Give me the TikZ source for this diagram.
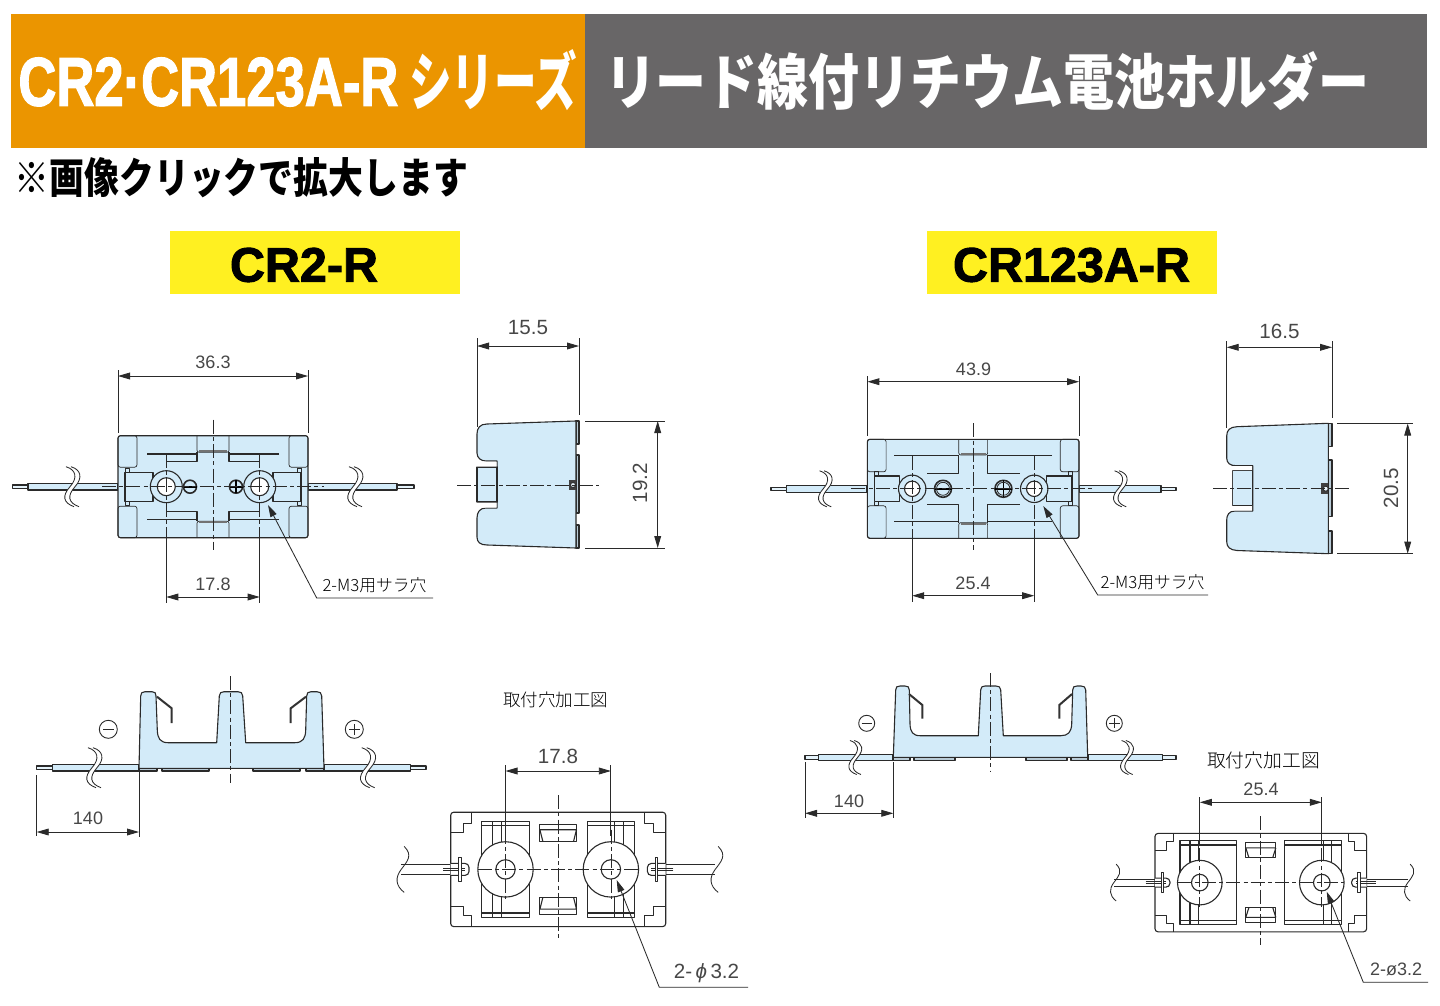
\documentclass[tikz,border=0pt]{standalone}
\usepackage{fontspec}
\usepackage{graphicx}
\usetikzlibrary{arrows.meta}
\setmainfont{Liberation Sans}
\newfontfamily\jp{Noto Sans CJK JP Light}
\newfontfamily\jpb{Noto Sans CJK JP Black}
\newfontfamily\latb[UprightFeatures={FakeBold=2}]{Liberation Sans Bold}
\definecolor{hdrorange}{HTML}{EB9500}
\definecolor{hdrgray}{HTML}{686667}
\definecolor{tagyellow}{HTML}{FFF021}
\definecolor{partblue}{HTML}{D3EBF9}
\definecolor{ink}{HTML}{2A2A2A}
\definecolor{plate}{HTML}{B9CBD7}
\tikzset{
  ol/.style={draw=ink,line width=0.55pt,line join=round},
  fine/.style={draw=ink,line width=0.35pt,line join=round},
  thin/.style={draw=ink,line width=0.42pt},
  cen/.style={draw=ink,line width=0.4pt,dash pattern=on 7pt off 1.6pt on 2pt off 1.6pt},
  dimline/.style={draw=ink,line width=0.42pt,{Triangle[length=6pt,width=3.4pt]}-{Triangle[length=6pt,width=3.4pt]}},
  lead/.style={draw=ink,line width=0.42pt,{Triangle[length=6pt,width=3.4pt]}-},
  clip arm/.style={draw=black!80,line width=1pt,line join=miter},
  lab/.style={inner sep=0pt,text=black!72,font=\fontsize{9pt}{9pt}\selectfont},
  labL/.style={inner sep=0pt,text=black!72,font=\fontsize{10.3pt}{10.3pt}\selectfont},
  jlab/.style={inner sep=0pt,text=black,font=\jp\fontsize{8.4pt}{8.4pt}\selectfont},
}
% double S-shaped wire break
\newcommand{\brk}[3]{%
  \begin{scope}[shift={(#1,#2)},scale=#3]
    \fill[white] (-6,-20) .. controls (4,-17) and (6,-9) .. (-2,0) .. controls (-10,9) and (-9,16) .. (2,20)
       -- (7,20) .. controls (-4,16) and (-5,9) .. (3,0) .. controls (11,-9) and (9,-17) .. (-1,-20) -- cycle;
    \draw[thin] (-6,-20) .. controls (4,-17) and (6,-9) .. (-2,0) .. controls (-10,9) and (-9,16) .. (2,20);
    \draw[thin] (-1,-20) .. controls (9,-17) and (11,-9) .. (3,0) .. controls (-5,9) and (-4,16) .. (7,20);
  \end{scope}}
% horizontal wire: #1 x outer, #2 x sheath start, #3 x sheath end, #4 y centre
\newcommand{\wire}[4]{%
  \draw[ol,fill=partblue] (#2,#4-3.3) rectangle (#3,#4+3.3);
  \draw[ol,fill=partblue!60] (#1,#4-1.7) rectangle (#2,#4+1.7);}
% top view: #1 cx #2 cy #3 hw #4 hh #5 hole offset #6 R #7 r #8 screw offset #9 screw r
\newcommand{\TopV}[9]{%
  \begin{scope}[shift={(#1,#2)}]
    \draw[ol,fill=partblue,rounded corners=1.2pt] ({-#3},{-#4}) rectangle ({#3},{#4});
    \foreach \s in {-1,1}{
      \begin{scope}[xscale=\s]
        \draw[fine,rounded corners=1.2pt] ({-#3},{-#4}) rectangle ({-#3+\cw},{-#4+\ch});
        \draw[fine,rounded corners=1.2pt] ({-#3},{#4}) rectangle ({-#3+\cw},{#4-\ch});
        \draw[fine] ({-#3+7},{-\tmh-4.2}) rectangle ({-#3+11},{-\tmh});
        \draw[fine] ({-#3+7},{\tmh+4.2}) rectangle ({-#3+11},{\tmh});
        \draw[fine] ({-#3+7},{-\tmh-4.2}) -- ({-#3+7},{\tmh+4.2});
        \draw[ol,fill=partblue] ({-#3+7},{-\tmh}) rectangle ({-#3+\tmw},{\tmh});
        % centre cross
        \draw[ol] ({-\tw},{-#4+\tabd}) -- ({-\tw},{-\crossy}) -- (-46.5,{-\crossy});
        \draw[ol] ({-\tw},{#4-\tabd}) -- ({-\tw},{\crossy}) -- (-46.5,{\crossy});
        \draw[ol] ({-\lx},{-\ly}) -- ({-\tw},{-\ly});
        \draw[ol] ({-\lx},{\ly}) -- ({-\tw},{\ly});
        \draw[ol,fill=partblue] ({-#5},0) circle ({#6});
        \fill[white] ({-#5},0) circle ({#7});
        \draw[ol] ({-#5},0) circle ({#7});
      \end{scope}}
    % centre tabs
    \draw[fine,rounded corners=1pt] ({-\tw},{-#4}) -- ({-\tw},{-#4+\tabd}) -- ({\tw},{-#4+\tabd}) -- ({\tw},{-#4});
    \draw[fine,rounded corners=1pt] ({-\tw},{#4}) -- ({-\tw},{#4-\tabd}) -- ({\tw},{#4-\tabd}) -- ({\tw},{#4});
    \fill[black!55] ({-\tw+2},{-#4+\tabd-2}) rectangle ({\tw-2},{-#4+\tabd});
    \fill[black!55] ({-\tw+2},{#4-\tabd+2}) rectangle ({\tw-2},{#4-\tabd});
    % screws
    \draw[ol,line width=0.8pt,fill=partblue] ({-#8},0) circle ({#9});
    \draw[black,line width=1.2pt] ({-#8-#9},0) -- ({-#8+#9},0);
    \draw[ol,line width=0.8pt,fill=partblue] ({#8},0) circle ({#9});
    \draw[black,line width=0.8pt] ({#8-#9},0) -- ({#8+#9},0) ({#8},{-#9}) -- ({#8},{#9});
    % centre lines
    \draw[cen] (0,{-#4-16}) -- (0,{#4+12});
    \draw[cen] ({-#3-16},0) -- ({#3+16},0);
    \foreach \s in {-1,1}{
      \draw[cen] ({\s*#5},{-\ly}) -- ({\s*#5},{#4});
    }
  \end{scope}}
% mounting-hole view: #1 cx #2 cy #3 hw #4 hh #5 hole offset #6 R #7 r
\newcommand{\MountV}[7]{%
  \begin{scope}[shift={(#1,#2)}]
    \draw[ol,rounded corners=1.5pt] ({-#3},{-#4}) rectangle ({#3},{#4});
    \foreach \s in {-1,1}{
      \begin{scope}[xscale=\s]
        \draw[ol] ({-#3+\sa},{-#4}) -- ({-#3+\sa},{-#4+\sb}) -- ({-#3+\sc},{-#4+\sb}) -- ({-#3+\sc},{-#4+\sd}) -- ({-#3},{-#4+\sd});
        \draw[ol] ({-#3+\sa},{#4}) -- ({-#3+\sa},{#4-\sb}) -- ({-#3+\sc},{#4-\sb}) -- ({-#3+\sc},{#4-\sd}) -- ({-#3},{#4-\sd});
        \draw[ol] ({-\pa},{-\pb}) rectangle ({-\pc},{\pb});
        \draw[ol] ({-\pa},{-\pb+4.6}) -- ({-\pc},{-\pb+4.6}) ({-\pa},{\pb-4.6}) -- ({-\pc},{\pb-4.6});
        \draw[ol] ({-\va},{-\pb}) -- ({-\va},{\pb}) ({-\vb},{-\pb}) -- ({-\vb},{\pb});
        \draw[ol,fill=white] ({-#5},0) circle ({#6});
        \draw[ol] ({-#5},0) circle ({#7});
        % wire, terminal and clip bar
        \draw[ol] ({-#3+\kw-1},{-\wh}) -- ({-\wx},{-\wh}) ({-#3+\kw-1},{\wh}) -- ({-\wx},{\wh});
        \draw[ol,fill=white,rounded corners=2pt] ({-#3},{-\kh}) -- ({-#3+\kw},{-\kh}) -- ({-#3+\kw},{\kh}) -- ({-#3},{\kh});
        \draw[thin,line width=0.55pt] ({-#3+\bx-17},-1) -- ({-#3+\kw-4},-1) ({-#3+\bx-17},1) -- ({-#3+\kw-4},1);
        \draw[ol,fill=white] ({-#3+\bx-1.2},{-\bh}) rectangle ({-#3+\bx+1.2},{\bh});
      \end{scope}
      \begin{scope}[shift={({\s*\wx},0)},scale=\wsc]
        \draw[thin] (3,-23) .. controls (12,-14) and (6,-8) .. (0,0) .. controls (-6,8) and (-6,16) .. (3,23);
      \end{scope}}
    % centre tabs
    \draw[ol] ({-\tw},{-\tya}) rectangle ({\tw},{-\tyb});
    \draw[ol] ({-\tw},{\tya}) rectangle ({\tw},{\tyb});
    \draw[ol] ({-\tw},{-\tya+5.5}) -- ({\tw},{-\tya+5.5}) ({-\tw},{-\tya+5.5}) -- ({-\tw+3},{-\tyb}) ({\tw},{-\tya+5.5}) -- ({\tw-3},{-\tyb});
    \draw[ol] ({-\tw},{\tya-5.5}) -- ({\tw},{\tya-5.5}) ({-\tw},{\tya-5.5}) -- ({-\tw+3},{\tyb}) ({\tw},{\tya-5.5}) -- ({\tw-3},{\tyb});
    % centre lines
    \draw[cen] (0,{-#4-17}) -- (0,{#4+13});
    \draw[cen] ({-#5-#6},0) -- ({#5+#6},0);
    \foreach \s in {-1,1}{
      \draw[cen] ({\s*#5},{-#6-12}) -- ({\s*#5},{#6+2});
    }
  \end{scope}}
\newcommand{\sym}[4]{%
  \node[draw=ink,line width=0.45pt,circle,minimum size=#3,inner sep=0pt] (#4) at (#1,#2) {};
  \draw[ink,line width=0.45pt] ([xshift=-2.6pt]#4.center) -- ([xshift=2.6pt]#4.center);}
\begin{document}
\begin{tikzpicture}[x=0.5pt,y=-0.5pt]
\useasboundingbox (0,0) rectangle (1440,1006);
\fill[white] (0,0) rectangle (1440,1006);
% ---- headers
\fill[hdrorange] (11,14) rectangle (585,148);
\fill[hdrgray] (585,14) rectangle (1427,148);
\node[text=white,inner sep=0pt,anchor=west] (h1) at (18,82) {\resizebox{190pt}{24pt}{\latb CR2·CR123A-R}};
\node[text=white,inner sep=0pt,anchor=west] (h1b) at (409,80) {\resizebox{84pt}{28pt}{\jpb シリーズ}};
\node[text=white,inner sep=0pt] (h2) at (987,81) {\resizebox{382pt}{26.5pt}{\jpb リード線付リチウム電池ホルダー}};
\node[anchor=west,inner sep=0pt] (note) at (14.5,178) {\resizebox{226.5pt}{18pt}{\jpb ※画像クリックで拡大します}};
\fill[tagyellow] (170,231) rectangle (460,294);
\fill[tagyellow] (927,231) rectangle (1217,294);
\node[inner sep=0pt] (t1) at (304,265) {\resizebox{74pt}{!}{\latb CR2-R}};
\node[inner sep=0pt] (t2) at (1071.5,265) {\resizebox{118.5pt}{!}{\latb CR123A-R}};

% ---- CR2-R top view
\def\cw{19}\def\ch{31.5}\def\tmw{35}\def\tmh{14.5}\def\tw{16}\def\tabd{16.5}\def\crossy{25}\def\lx{66}\def\ly{32.7}
\wire{12.7}{28}{118}{486.7}
\wire{414}{397}{308}{486.7}
\brk{72}{486.7}{1}
\brk{355}{486.7}{1}
\TopV{213}{486.7}{95}{51}{46.7}{16}{9}{23}{6.5}
\coordinate (a1) at (118,376); \coordinate (b1) at (308,376);
\draw[thin] (118,370) -- (118,433) (308,370) -- (308,433);
\draw[dimline] (a1) -- (b1);
\node[lab] (l1) at (213,362) {36.3};
\coordinate (a2) at (166.3,597); \coordinate (b2) at (259.7,597);
\draw[thin] (166.3,538) -- (166.3,603) (259.7,538) -- (259.7,603);
\draw[dimline] (a2) -- (b2);
\node[lab] (l2) at (213,584) {17.8};
\coordinate (p1) at (268,505); \coordinate (p2) at (316.7,598); \coordinate (p3) at (433,598);
\draw[lead] (p1) -- (p2) -- (p3);
\node[jlab] (l3) at (374.5,585) {2-M3用サラ穴};

% ---- CR2-R side view
\draw[ol,fill=plate] (576,421) rectangle (579,444) (576,455) rectangle (579,513) (576,525) rectangle (579,548);
\draw[ol,fill=partblue] (576,421) -- (487,424) .. controls (480,424) and (477,428) .. (477,434) -- (477,453)
  .. controls (477,458) and (481,461) .. (486,461) -- (497,461) -- (497,508) -- (486,508)
  .. controls (480,508) and (477,512) .. (477,518) -- (477,537) .. controls (477,542) and (480,545) .. (487,545) -- (576,548) -- cycle;
\draw[ol,fill=partblue] (477,467) rectangle (497,502);
\fill[white] (476,461.5) rectangle (496.5,466.5) (476,502.5) rectangle (496.5,507.5);
\fill[black!75] (568.5,480) rectangle (576,490);
\draw[thin,fill=partblue!50] (573,485) circle (2.5);
\draw[cen] (457,485) -- (599,485);
\coordinate (a3) at (477,346); \coordinate (b3) at (579,346);
\draw[thin] (477,338) -- (477,427) (579,338) -- (579,415);
\draw[dimline] (a3) -- (b3);
\node[labL] (l4) at (528,328) {15.5};
\coordinate (a4) at (657.7,421); \coordinate (b4) at (657.7,548);
\draw[thin] (585,421) -- (665,421) (585,548) -- (665,548);
\draw[dimline] (a4) -- (b4);
\node[labL,rotate=90] (l5) at (640,483) {19.2};

% ---- CR2-R front view
\wire{36.7}{52.3}{139}{767.7}
\wire{426}{410.7}{324}{767.7}
\brk{94}{767.7}{1}
\brk{367.7}{767.7}{1}
\draw[ol,fill=plate] (139,768) rectangle (157,771) (162,768) rectangle (209,771) (253,768) rectangle (300,771) (306,768) rectangle (324,771);
\draw[ol,fill=partblue] (139,768.3) -- (140.7,696) .. controls (140.7,693) and (142,691.7) .. (145,691.7) -- (152,691.7) .. controls (155,691.7) and (156,693) .. (156,696)
  -- (157.3,730) .. controls (157.5,738) and (160,742.7) .. (168,742.7) -- (216.7,742.7) -- (219.3,696) .. controls (219.5,693) and (221,691.7) .. (224,691.7)
  -- (238,691.7) .. controls (241,691.7) and (242.5,693) .. (242.7,696) -- (245.7,742.7) -- (295,742.7) .. controls (303,742.7) and (305.5,738) .. (305.7,730)
  -- (306.7,696) .. controls (306.7,693) and (308,691.7) .. (311,691.7) -- (317,691.7) .. controls (320,691.7) and (321.5,693) .. (321.7,696) -- (324,768.3) -- cycle;
\draw[clip arm] (157,696.7) -- (171.7,708.3) -- (171.7,723);
\draw[clip arm] (306,696.7) -- (290.7,708.3) -- (290.7,723);
\draw[cen] (230.7,676) -- (230.7,783);
\sym{108.3}{729.3}{9pt}{m1}
\sym{354.3}{729.3}{9pt}{m2}
\draw[ink,line width=0.45pt] (354.3,724) -- (354.3,734.6);
\coordinate (a5) at (36.7,832); \coordinate (b5) at (139,832);
\draw[thin] (36.7,775) -- (36.7,836) (139,771) -- (139,837);
\draw[dimline] (a5) -- (b5);
\node[lab] (l6) at (88,818) {140};

% ---- CR2-R mounting
\node[jlab,font=\jp\fontsize{8.75pt}{8.75pt}\selectfont] (l7) at (555.5,700) {取付穴加工図};
\def\sa{21}\def\sb{11.3}\def\sc{12.6}\def\sd{20.4}
\def\pa{76.3}\def\pb{48.2}\def\pc{29}\def\va{65.6}\def\vb{56.3}
\def\kh{6}\def\kw{18.3}\def\bx{9.3}\def\bh{12}\def\wh{5}\def\wx{157}\def\wsc{1}
\def\tw{18.3}\def\tya{45.2}\def\tyb{27.8}
\MountV{558.2}{869.4}{107.5}{57.2}{52.7}{27.7}{9.7}
\coordinate (a6) at (505.5,771); \coordinate (b6) at (610.9,771);
\draw[thin] (505.5,765) -- (505.5,836) (610.9,765) -- (610.9,836);
\draw[dimline] (a6) -- (b6);
\node[labL] (l8) at (558,756) {17.8};
\coordinate (q1) at (616.7,880); \coordinate (q2) at (659.3,987.3); \coordinate (q3) at (748,987.3);
\draw[lead] (q1) -- (q2) -- (q3);
\node[labL] (l9) at (706.5,973) {2-\,{\itshape ϕ}\,3.2};

% ---- CR123A-R top view
\def\cw{18.7}\def\ch{32.5}\def\tmw{32.5}\def\tmh{12.8}\def\tw{14.4}\def\tabd{15.7}\def\crossy{15.7}\def\lx{79}\def\ly{33}
\wire{771}{786.7}{867}{488.8}
\wire{1176}{1161}{1079}{488.8}
\brk{825}{488.8}{0.9}
\brk{1120}{488.8}{0.9}
\TopV{973.2}{488.8}{105.8}{49.5}{61}{13.7}{7.7}{30.2}{8.5}
\draw[ink,line width=0.4pt] (943,488.8) circle (6.5) (1003.4,488.8) circle (6.5);
\coordinate (a7) at (867.4,381.7); \coordinate (b7) at (1079,381.7);
\draw[thin] (867.4,376) -- (867.4,436) (1079,376) -- (1079,436);
\draw[dimline] (a7) -- (b7);
\node[lab] (l10) at (973.5,369) {43.9};
\coordinate (a8) at (912.2,595.7); \coordinate (b8) at (1034.2,595.7);
\draw[thin] (912.2,539) -- (912.2,602) (1034.2,539) -- (1034.2,602);
\draw[dimline] (a8) -- (b8);
\node[lab] (l11) at (973,583) {25.4};
\coordinate (p4) at (1043.3,506); \coordinate (p5) at (1097.7,595); \coordinate (p6) at (1208,595);
\draw[lead] (p4) -- (p5) -- (p6);
\node[jlab] (l12) at (1152.5,582) {2-M3用サラ穴};

% ---- CR123A-R side view
\draw[ol,fill=plate] (1328.3,423.3) rectangle (1332,446.7) (1328.3,460) rectangle (1332,516.7) (1328.3,531) rectangle (1332,553.7);
\draw[ol,fill=partblue] (1328.3,423.3) -- (1237,426.7) .. controls (1230,427) and (1226.7,430) .. (1226.7,436) -- (1226.7,458)
  .. controls (1226.7,463) and (1230,465.7) .. (1236,465.7) -- (1252.7,465.7) -- (1252.7,511) -- (1235,511)
  .. controls (1229,511) and (1226.7,515) .. (1226.7,520) -- (1226.7,541.7) .. controls (1226.7,547) and (1230,550) .. (1237,550.5) -- (1328.3,553.7) -- cycle;
\draw[ol,fill=partblue] (1232.7,470.7) rectangle (1252.7,505.7);
\fill[white] (1226,466.2) rectangle (1252.2,470.2) (1226,506.2) rectangle (1252.2,510.5) (1226,470) rectangle (1232.2,506);
\fill[black!75] (1321,483) rectangle (1328.3,494);
\draw[thin,fill=partblue!50] (1325.7,488.7) circle (2.5);
\draw[cen] (1213,488.7) -- (1351,488.7);
\coordinate (a9) at (1226.7,347.3); \coordinate (b9) at (1332,347.3);
\draw[thin] (1226.7,341) -- (1226.7,428) (1332,341) -- (1332,418);
\draw[dimline] (a9) -- (b9);
\node[labL] (l13) at (1279.5,331) {16.5};
\coordinate (a10) at (1407.7,423.5); \coordinate (b10) at (1407.7,553.7);
\draw[thin] (1337,423.5) -- (1413,423.5) (1337,553.7) -- (1413,553.7);
\draw[dimline] (a10) -- (b10);
\node[labL,rotate=90] (l14) at (1391,488) {20.5};

% ---- CR123A-R front view
\wire{805}{818.3}{893}{757.5}
\wire{1176}{1162.7}{1088}{757.5}
\brk{855}{757.5}{0.85}
\brk{1126.7}{757.5}{0.85}
\draw[ol,fill=plate] (893.3,757) rectangle (910,760.3) (914,757) rectangle (955,760.3) (1026,757) rectangle (1067,760.3) (1071,757) rectangle (1087.7,760.3);
\draw[ol,fill=partblue] (893.3,757.3) -- (895.7,690) .. controls (895.7,687) and (897,686) .. (900,686) -- (905,686) .. controls (908,686) and (909.3,687) .. (909.3,690)
  -- (910,724) .. controls (910.3,732) and (913,735.7) .. (920,735.7) -- (978.3,735.7) -- (980.7,690) .. controls (980.9,687) and (982,686) .. (985,686)
  -- (996,686) .. controls (999,686) and (1000.4,687) .. (1000.7,690) -- (1003.3,735.7) -- (1061,735.7) .. controls (1068,735.7) and (1071.4,732) .. (1071.7,724)
  -- (1072.7,690) .. controls (1072.7,687) and (1074,686) .. (1077,686) -- (1081,686) .. controls (1084,686) and (1085.5,687) .. (1085.7,690) -- (1087.7,757.3) -- cycle;
\draw[clip arm] (909,694) -- (922.3,705) -- (922.3,718.7);
\draw[clip arm] (1072,694) -- (1059.3,705) -- (1059.3,718.7);
\draw[cen] (990.7,673) -- (990.7,771);
\sym{866.7}{723.3}{8pt}{m3}
\sym{1114.3}{723.3}{8pt}{m4}
\draw[ink,line width=0.45pt] (1114.3,718.2) -- (1114.3,728.4);
\coordinate (a11) at (805,813.3); \coordinate (b11) at (893.3,813.3);
\draw[thin] (805,762) -- (805,818) (893.3,762) -- (893.3,818);
\draw[dimline] (a11) -- (b11);
\node[lab] (l15) at (849,801) {140};

% ---- CR123A-R mounting
\node[jlab,font=\jp\fontsize{9.4pt}{9.4pt}\selectfont] (l16) at (1263.5,760) {取付穴加工図};
\def\sa{18.3}\def\sb{8.3}\def\sc{11.7}\def\sd{16.7}
\def\pa{80.8}\def\pb{42.2}\def\pc{24}\def\va{70.8}\def\vb{62.5}
\def\kh{4.5}\def\kw{15}\def\bx{7.7}\def\bh{10.3}\def\wh{3.5}\def\wx{147}\def\wsc{0.8}
\def\tw{15}\def\tya{40.2}\def\tyb{25.2}
\MountV{1260.8}{882.6}{105.8}{49.2}{61}{22.3}{8.3}
\coordinate (a12) at (1199.8,802.3); \coordinate (b12) at (1321.8,802.3);
\draw[thin] (1199.8,797) -- (1199.8,845) (1321.8,797) -- (1321.8,845);
\draw[dimline] (a12) -- (b12);
\node[lab] (l17) at (1261,789) {25.4};
\coordinate (q4) at (1326.7,891.7); \coordinate (q5) at (1363.3,982.3); \coordinate (q6) at (1428,982.3);
\draw[lead] (q4) -- (q5) -- (q6);
\node[lab] (l18) at (1396,969) {2-ø3.2};
\end{tikzpicture}
\end{document}
